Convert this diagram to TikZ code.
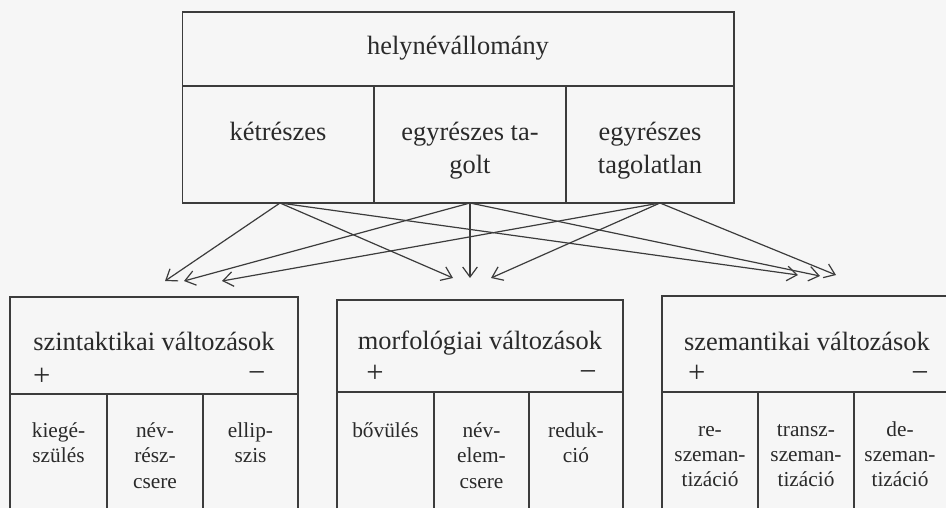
\documentclass[tikz,border=0pt]{standalone}
\usepackage{fontspec}
\setmainfont{Liberation Serif}
\usetikzlibrary{arrows.meta}
\definecolor{paper}{HTML}{F6F6F6}
\definecolor{rule}{HTML}{3C3C3C}
\definecolor{ink}{HTML}{2A2A2A}
\tikzset{
  frame/.style={draw=rule, line width=1.2pt},
  arr/.style={draw=rule, line width=0.9pt, -{Straight Barb[length=7.5pt,width=11pt]}},
  head/.style={font=\fontsize{19.8}{24}\selectfont, inner sep=0pt, text=ink, anchor=base},
  topcell/.style={font=\fontsize{19.8}{25}\selectfont, align=center, inner sep=0pt, text=ink, anchor=north},
  cell/.style={font=\fontsize{16}{19}\selectfont, align=center, inner sep=0pt, text=ink, anchor=north},
  sign/.style={font=\fontsize{23}{24}\selectfont, inner sep=0pt, text=ink}
}
\begin{document}
\begin{tikzpicture}[x=0.75pt,y=-0.75pt]
  % page
  \fill[paper] (0,0) rectangle (946,508);
  \useasboundingbox (0,0) rectangle (946,508);

  % ---------- upper table ----------
  \draw[frame] (182.5,12) rectangle (734,203);
  \draw[frame] (182.5,86) -- (734,86);
  \draw[frame] (374,86) -- (374,203);
  \draw[frame] (566,86) -- (566,203);
  \node[head] (allomany) at (458,54.5) {helynévállomány};
  \node[topcell] (ketreszes) at (278,117) {\strut kétrészes};
  \node[topcell] (tagolt) at (470,117) {\strut egyrészes ta-\\golt};
  \node[topcell] (tagolatlan) at (650,117) {\strut egyrészes\\tagolatlan};

  % ---------- lower tables (open at the bottom) ----------
  % syntactic
  \draw[frame] (10,508) -- (10,297) -- (298,297) -- (298,508);
  \draw[frame] (10,394) -- (298,394);
  \draw[frame] (107,394) -- (107,508);
  \draw[frame] (203,394) -- (203,508);
  \node[head] (szint) at (154,350.5) {szintaktikai változások};
  \node[sign] (szintplus) at (41.7,377) {+};
  \node[sign] (szintminus) at (256.7,377) {−};
  \node[cell] (kieg) at (58.5,419.5) {\strut kiegé-\\szülés};
  \node[cell] (nevresz) at (155,419.5) {\strut név-\\rész-\\csere};
  \node[cell] (ellip) at (250.5,419.5) {\strut ellip-\\szis};

  % morphological
  \draw[frame] (337,508) -- (337,300) -- (623,300) -- (623,508);
  \draw[frame] (337,392) -- (623,392);
  \draw[frame] (434,392) -- (434,508);
  \draw[frame] (529,392) -- (529,508);
  \node[head] (morf) at (480,349.5) {morfológiai változások};
  \node[sign] (morfplus) at (375,374) {+};
  \node[sign] (morfminus) at (588,376) {−};
  \node[cell] (bovules) at (385.5,419.5) {\strut bővülés};
  \node[cell] (nevelem) at (481.5,419.5) {\strut név-\\elem-\\csere};
  \node[cell] (reduk) at (576,419.5) {\strut reduk-\\ció};

  % semantic
  \draw[frame] (662,508) -- (662,296) -- (946,296);
  \draw[frame] (662,392) -- (946,392);
  \draw[frame] (758,392) -- (758,508);
  \draw[frame] (854,392) -- (854,508);
  \node[head] (szem) at (807,350.5) {szemantikai változások};
  \node[sign] (szemplus) at (696.7,374) {+};
  \node[sign] (szemminus) at (920,377) {−};
  \node[cell] (resz) at (710,418) {\strut re-\\szeman-\\tizáció};
  \node[cell] (transz) at (806,418) {\strut transz-\\szeman-\\tizáció};
  \node[cell] (desz) at (900,418) {\strut de-\\szeman-\\tizáció};

  % ---------- connectors ----------
  \coordinate (src1) at (280,203);
  \coordinate (src2) at (470,203);
  \coordinate (src3) at (660,203);
  \coordinate (synA) at (165,281);
  \coordinate (synB) at (184,281);
  \coordinate (synC) at (222,281);
  \coordinate (morA) at (453,278);
  \coordinate (morB) at (470,278);
  \coordinate (morC) at (491,278);
  \coordinate (semA) at (798,275);
  \coordinate (semB) at (820,276);
  \coordinate (semC) at (836,275);

  \draw[arr] (src1) -- (synA);
  \draw[arr] (src1) -- (morA);
  \draw[arr] (src1) -- (semA);
  \draw[arr] (src2) -- (synB);
  \draw[arr] (src2) -- (morB);
  \draw[arr] (src2) -- (semB);
  \draw[arr] (src3) -- (synC);
  \draw[arr] (src3) -- (morC);
  \draw[arr] (src3) -- (semC);
\end{tikzpicture}
\end{document}
